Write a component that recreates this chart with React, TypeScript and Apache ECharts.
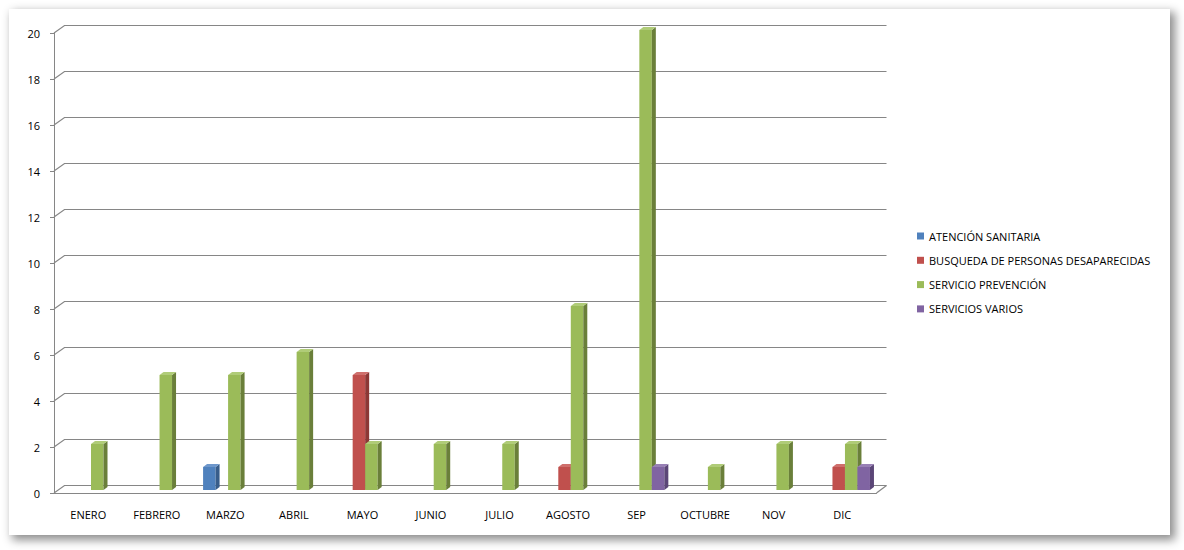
import React, { useEffect, useRef } from "react";
import * as echarts from "echarts";

const months = ["ENERO", "FEBRERO", "MARZO", "ABRIL", "MAYO", "JUNIO", "JULIO", "AGOSTO", "SEP", "OCTUBRE", "NOV", "DIC"];
const seriesNames = ["ATENCIÓN SANITARIA", "BUSQUEDA DE PERSONAS DESAPARECIDAS", "SERVICIO PREVENCIÓN", "SERVICIOS VARIOS"];
const atencionSanitaria = [0, 0, 1, 0, 0, 0, 0, 0, 0, 0, 0, 0];
const busquedaPersonas = [0, 0, 0, 0, 5, 0, 0, 1, 0, 0, 0, 1];
const servicioPrevencion = [2, 5, 5, 6, 2, 2, 2, 8, 20, 1, 2, 2];
const serviciosVarios = [0, 0, 0, 0, 0, 0, 0, 0, 1, 0, 0, 1];
const yTicks = [0, 2, 4, 6, 8, 10, 12, 14, 16, 18, 20];

const palette = [
  { front: "#4F81BD", side: "#385D8A", top: "#6E97CB" },
  { front: "#C0504D", side: "#8C3735", top: "#CF6F6C" },
  { front: "#9BBB59", side: "#6A7F3A", top: "#B0CC78" },
  { front: "#8064A2", side: "#5B4677", top: "#9880B5" },
];

const FONT = "'Open Sans', 'DejaVu Sans', sans-serif";

export default function App() {
  const ref = useRef<HTMLDivElement>(null);

  useEffect(() => {
    if (!ref.current) return;
    const chart = echarts.init(ref.current, undefined, { renderer: "svg" });
    const allValues = [atencionSanitaria, busquedaPersonas, servicioPrevencion, serviciosVarios];

    const barSeries = allValues.map((vals, k) => ({
      type: "custom",
      name: seriesNames[k],
      z: 5,
      itemStyle: { color: palette[k].front },
      encode: { x: 0, y: 1 },
      data: vals.map((v, i) => (v > 0 ? [i, v] : null)).filter((d) => d !== null),
      renderItem: (params: any, api: any) => {
        const idx = api.value(0);
        const v = api.value(1);
        const top = api.coord([idx, v]);
        const base = api.coord([idx, 0]);
        const band = api.size([1, 0])[0];
        const w = 12.5;
        const x0 = top[0] - band / 2 + 12 + w * k;
        const dx = 4;
        const dy = 3;
        const lift = 3;
        const yT = top[1] - lift;
        const yB = base[1] - lift;
        const c = palette[k];
        return {
          type: "group",
          children: [
            { type: "rect", shape: { x: x0, y: yT, width: w, height: yB - yT }, style: { fill: c.front } },
            {
              type: "polygon",
              shape: { points: [[x0 + w, yT], [x0 + w + dx, yT - dy], [x0 + w + dx, yB - dy], [x0 + w, yB]] },
              style: { fill: c.side },
            },
            {
              type: "polygon",
              shape: { points: [[x0, yT], [x0 + dx, yT - dy], [x0 + w + dx, yT - dy], [x0 + w, yT]] },
              style: { fill: c.top },
            },
          ],
        };
      },
    }));

    const gridSeries = {
      type: "custom",
      name: "grid",
      z: 1,
      silent: true,
      encode: { x: 0, y: 1 },
      data: yTicks.map((v) => [0, v]),
      renderItem: (params: any, api: any) => {
        const v = api.value(1);
        const y = api.coord([0, v])[1];
        const cs = params.coordSys;
        const x0 = cs.x;
        const x1 = cs.x + cs.width;
        const children: any[] = [
          {
            type: "polyline",
            shape: { points: [[x0, y], [x0 + 10.5, y - 7.5], [x1 + 10, y - 7.5]] },
            style: { stroke: "#868686", lineWidth: 1.2, fill: null },
          },
        ];
        if (v === 0) {
          children.push({
            type: "line",
            shape: { x1: x1, y1: y, x2: x1 + 10, y2: y - 7.5 },
            style: { stroke: "#868686", lineWidth: 1.2 },
          });
        }
        return { type: "group", children };
      },
    };

    chart.setOption({
      animation: false,
      backgroundColor: "transparent",
      grid: { left: 54, top: 33, width: 822.5, height: 460 },
      legend: {
        orient: "vertical",
        left: 917,
        top: 229,
        padding: 0,
        itemWidth: 7,
        itemHeight: 7,
        itemGap: 10.3,
        icon: "rect",
        data: seriesNames,
        textStyle: { fontFamily: FONT, fontSize: 11, color: "#000", lineHeight: 14 },
      },
      xAxis: {
        type: "category",
        data: months,
        axisLine: { lineStyle: { color: "#868686", width: 1 } },
        axisTick: { length: 5, lineStyle: { color: "#868686" } },
        axisLabel: { fontFamily: FONT, fontSize: 11, color: "#000", margin: 16, interval: 0 },
        splitLine: { show: false },
      },
      yAxis: {
        type: "value",
        min: 0,
        max: 20,
        interval: 2,
        axisLine: { show: true, lineStyle: { color: "#868686", width: 1 } },
        axisTick: { show: true, length: 4, lineStyle: { color: "#868686" } },
        axisLabel: { fontFamily: FONT, fontSize: 11, color: "#000", margin: 14 },
        splitLine: { show: false },
      },
      series: [gridSeries, ...barSeries],
    });
    return () => chart.dispose();
  }, []);

  return (
    <div style={{ position: "fixed", left: 0, top: 0, width: 1184, height: 550, background: "#fff" }}>
      <div
        style={{
          position: "absolute",
          left: 9,
          top: 9,
          width: 1161,
          height: 526,
          background: "#fff",
          boxShadow: "4px 4px 9px 1px rgba(0,0,0,0.45)",
        }}
      />
      <div ref={ref} style={{ position: "absolute", left: 0, top: 0, width: 1184, height: 550 }} />
    </div>
  );
}
